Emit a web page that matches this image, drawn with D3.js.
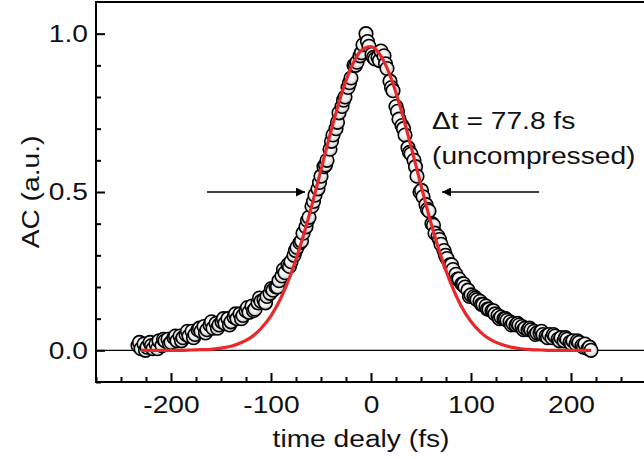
<!DOCTYPE html>
<html lang="en">
<head>
<meta charset="utf-8">
<script src="https://d3js.org/d3.v7.min.js"></script>
<style>
  body { margin: 0; background: #fff; }
  svg { display: block; }
  text { font-family: "Liberation Sans", Arial, sans-serif; fill: #111; }
</style>
</head>
<body>
<div id="chart"></div>
<script>
// measured autocorrelation points [delay (fs), AC (a.u.)]
var measured = [
  [-233,0.015],[-230,0.005],[-227,0.02],[-224,0.01],[-221,0.025],[-218,0.005],[-215,0.02],[-212,0.03],
  [-209,0.015],[-206,0.03],[-203,0.035],[-200,0.025],[-197,0.04],[-194,0.03],[-191,0.045],[-188,0.04],
  [-185,0.05],[-182,0.045],[-179,0.06],[-176,0.05],[-173,0.065],[-170,0.06],[-167,0.075],[-164,0.065],
  [-161,0.08],[-158,0.07],[-155,0.085],[-152,0.08],[-149,0.09],[-146,0.085],[-143,0.1],[-140,0.09],
  [-137,0.105],[-134,0.1],[-131,0.115],[-128,0.11],[-125,0.125],[-122,0.12],[-119,0.14],[-116,0.13],
  [-113,0.15],[-110,0.155],[-107,0.16],[-104,0.17],[-101,0.18],[-98,0.19],[-95,0.2],[-92,0.22],
  [-89,0.235],[-86,0.245],[-83,0.27],[-80,0.28],[-77,0.3],[-74,0.325],[-71,0.34],[-68,0.37],
  [-65,0.39],[-62,0.42],[-59,0.455],[-56,0.49],[-53,0.51],[-50,0.55],[-47,0.58],[-44,0.6],
  [-41,0.635],[-38,0.68],[-35,0.7],[-32,0.75],[-29,0.77],[-26,0.8],[-23,0.83],[-20,0.86],
  [-17,0.9],[-14,0.91],[-11,0.93],[-8,0.965],[-5,1.0],[-2,0.96],[1,0.935],[4,0.92],
  [7,0.925],[10,0.945],[13,0.93],[16,0.89],[19,0.85],[22,0.82],[25,0.77],[28,0.73],
  [31,0.71],[34,0.68],[37,0.64],[40,0.62],[43,0.6],[46,0.55],[49,0.5],[52,0.485],
  [55,0.46],[58,0.44],[61,0.4],[64,0.37],[67,0.36],[70,0.335],[73,0.315],[76,0.29],
  [79,0.27],[82,0.255],[85,0.24],[88,0.225],[91,0.21],[94,0.2],[97,0.19],[100,0.175],
  [103,0.17],[106,0.16],[109,0.155],[112,0.145],[115,0.14],[118,0.13],[121,0.125],[124,0.115],
  [127,0.11],[130,0.105],[133,0.1],[136,0.095],[139,0.09],[142,0.085],[145,0.08],[148,0.08],
  [151,0.075],[154,0.07],[157,0.065],[160,0.065],[163,0.06],[166,0.055],[169,0.055],[172,0.05],
  [175,0.045],[178,0.05],[181,0.04],[184,0.045],[187,0.035],[190,0.04],[193,0.03],[196,0.035],
  [199,0.025],[202,0.03],[205,0.02],[208,0.025],[211,0.015],[214,0.02],[217,0.005],[220,0.0]
];

// second, interleaved set of measured points (scatter around the first)
var measuredRepeat = [
  [-231.5,0.025],[-225.5,0.0],[-219.5,0.015],[-213.5,0.005],[-207.5,0.035],[-201.5,0.02],[-195.5,0.045],[-189.5,0.03],
  [-183.5,0.06],[-177.5,0.04],[-171.5,0.07],[-165.5,0.055],[-159.5,0.09],[-153.5,0.07],[-147.5,0.1],[-141.5,0.08],
  [-135.5,0.115],[-129.5,0.1],[-123.5,0.135],[-117.5,0.125],[-111.5,0.165],[-105.5,0.15],[-99.5,0.195],[-93.5,0.2],
  [-87.5,0.255],[-81.5,0.265],[-75.5,0.315],[-69.5,0.345],[-63.5,0.41],[-57.5,0.47],[-51.5,0.53],[-45.5,0.585],
  [-39.5,0.66],[-33.5,0.72],[-27.5,0.79],[-21.5,0.845],[-15.5,0.9],[-9.5,0.94],[-3.5,0.975],[2.5,0.925],
  [8.5,0.915],[14.5,0.905],[20.5,0.83],[26.5,0.755],[32.5,0.7],[38.5,0.625],[44.5,0.58],[50.5,0.505],
  [56.5,0.445],[62.5,0.395],[68.5,0.35],[74.5,0.3],[80.5,0.27],[86.5,0.225],[92.5,0.21],[98.5,0.17],
  [104.5,0.165],[110.5,0.145],[116.5,0.13],[122.5,0.125],[128.5,0.1],[134.5,0.1],[140.5,0.08],[146.5,0.085],
  [152.5,0.065],[158.5,0.07],[164.5,0.05],[170.5,0.06],[176.5,0.04],[182.5,0.05],[188.5,0.03],[194.5,0.04],
  [200.5,0.02],[206.5,0.03],[212.5,0.01],[218.5,0.01]
];

// fitted curve (red)
var fitDelay = [-230,-220,-210,-200,-190,-180,-170,-160,-150,-140,-130,-120,-110,-100,-90,-80,-70,-60,-50,-40,
  -30,-20,-10,0,10,20,30,40,50,60,70,80,90,100,110,120,130,140,150,160,170,180,190,200,210,220];
var fitAC = [0,0,0,0,0,0.001,0.002,0.003,0.007,0.013,0.024,0.041,0.069,0.109,0.166,0.242,0.337,0.448,0.570,0.692,
  0.804,0.892,0.946,0.959,0.929,0.860,0.761,0.644,0.521,0.402,0.297,0.210,0.141,0.091,0.056,0.033,0.019,0.010,0.005,0.002,
  0.001,0,0,0,0,0];

var xMajor = [-200, -100, 0, 100, 200];
var yMajor = [0.0, 0.5, 1.0];
var xTitle = "time dealy (fs)";
var yTitle = "AC (a.u.)";
var noteLine1 = "\u0394t = 77.8 fs";
var noteLine2 = "(uncompressed)";

var width = 644;
var height = 459;
var stretch = "scale(1.15,1)";

var svg = d3.select("#chart").append("svg")
    .attr("width", width)
    .attr("height", height);

var xScale = d3.scaleLinear().domain([-275, 300]).range([96, 671]);
var yScale = d3.scaleLinear().domain([-0.1, 1.1]).range([382, 2]);

var defs = svg.append("defs");
var grad = defs.append("radialGradient").attr("id", "dotfill")
    .attr("cx", "50%").attr("cy", "50%").attr("r", "55%")
    .attr("fx", "40%").attr("fy", "35%");
grad.append("stop").attr("offset", "0%").attr("stop-color", "#ffffff");
grad.append("stop").attr("offset", "55%").attr("stop-color", "#f0f0f0");
grad.append("stop").attr("offset", "100%").attr("stop-color", "#b8b8b8");

// zero line
svg.append("line")
    .attr("x1", xScale(-275)).attr("x2", xScale(300))
    .attr("y1", yScale(0)).attr("y2", yScale(0))
    .attr("stroke", "#000").attr("stroke-width", 1.4);

// data points
var allPoints = measured.concat(measuredRepeat).sort(function(a, b) { return a[0] - b[0]; });

svg.append("g")
    .selectAll("circle")
    .data(allPoints)
    .enter()
    .append("circle")
    .attr("cx", function(d) { return xScale(d[0]); })
    .attr("cy", function(d) { return yScale(d[1]); })
    .attr("r", 6.8)
    .style("fill", "url(#dotfill)")
    .style("stroke", "#000")
    .style("stroke-width", 1.6);

// fit line
var fitLine = d3.line()
    .x(function(d, i) { return xScale(fitDelay[i]); })
    .y(function(d) { return yScale(d); })
    .curve(d3.curveMonotoneX);

svg.append("path")
    .datum(fitAC)
    .attr("d", fitLine)
    .attr("fill", "none")
    .attr("stroke", "#e8282b")
    .attr("stroke-width", 3.2);

// axes
var xMinor = d3.range(-275, 301, 25).filter(function(v) { return v % 100 !== 0; });
var yMinor = d3.range(-1, 11).map(function(v) { return v / 10; }).filter(function(v) { return Math.abs(v * 2 - Math.round(v * 2)) > 0.01; });

var xAxis = d3.axisBottom(xScale).tickValues(xMajor).tickSizeInner(-9).tickSizeOuter(0).tickPadding(14)
    .tickFormat(function(d) { return String(d); });
var xAxisMinor = d3.axisBottom(xScale).tickValues(xMinor).tickSizeInner(-5).tickSizeOuter(0).tickFormat("");
var yAxis = d3.axisLeft(yScale).tickValues(yMajor).tickSizeInner(-9).tickSizeOuter(0).tickPadding(7)
    .tickFormat(function(d) { return d.toFixed(1); });
var yAxisMinor = d3.axisLeft(yScale).tickValues(yMinor).tickSizeInner(-5).tickSizeOuter(0).tickFormat("");

function styleAxis(g) {
  g.select(".domain").remove();
  g.selectAll("line").attr("stroke", "#000").attr("stroke-width", 2);
  g.selectAll("text")
    .style("font-family", "'Liberation Sans', Arial, sans-serif")
    .style("font-size", "24.5px")
    .attr("fill", "#111")
    .attr("transform", stretch);
}

svg.append("g").attr("transform", "translate(0," + yScale(-0.1) + ")").call(xAxisMinor).call(styleAxis);
svg.append("g").attr("transform", "translate(0," + yScale(-0.1) + ")").call(xAxis).call(styleAxis);
svg.append("g").attr("transform", "translate(" + xScale(-275) + ",0)").call(yAxisMinor).call(styleAxis);
svg.append("g").attr("transform", "translate(" + xScale(-275) + ",0)").call(yAxis).call(styleAxis);

// frame
svg.append("rect")
    .attr("x", xScale(-275)).attr("y", yScale(1.1))
    .attr("width", xScale(300) - xScale(-275))
    .attr("height", yScale(-0.1) - yScale(1.1))
    .attr("fill", "none").attr("stroke", "#000").attr("stroke-width", 2);

// axis titles
svg.append("text")
    .attr("transform", "translate(" + xScale(-10) + ",447) " + stretch)
    .attr("text-anchor", "middle")
    .style("font-size", "24.5px")
    .text(xTitle);

svg.append("text")
    .attr("transform", "translate(39," + yScale(0.5) + ") rotate(-90) " + stretch)
    .attr("text-anchor", "middle")
    .style("font-size", "24.5px")
    .text(yTitle);

// arrows
defs.append("marker").attr("id", "arrowhead")
    .attr("viewBox", "0 0 10 10").attr("refX", 10).attr("refY", 5)
    .attr("markerWidth", 17).attr("markerHeight", 9)
    .attr("markerUnits", "userSpaceOnUse")
    .attr("orient", "auto")
    .append("path").attr("d", "M0,0 L10,5 L0,10 z").attr("fill", "#000");

var arrows = [[-164, -66], [168, 71]];
svg.selectAll(".arrow").data(arrows).enter()
    .append("line").attr("class", "arrow")
    .attr("x1", function(d) { return xScale(d[0]); })
    .attr("x2", function(d) { return xScale(d[1]); })
    .attr("y1", yScale(0.5)).attr("y2", yScale(0.5))
    .attr("stroke", "#000").attr("stroke-width", 1.6)
    .attr("marker-end", "url(#arrowhead)");

// annotation
svg.append("text")
    .attr("transform", "translate(" + xScale(61) + "," + yScale(0.698) + ") " + stretch)
    .style("font-size", "24.5px")
    .text(noteLine1);
svg.append("text")
    .attr("transform", "translate(" + xScale(61) + "," + yScale(0.59) + ") " + stretch)
    .style("font-size", "24.5px")
    .text(noteLine2);
</script>
</body>
</html>
